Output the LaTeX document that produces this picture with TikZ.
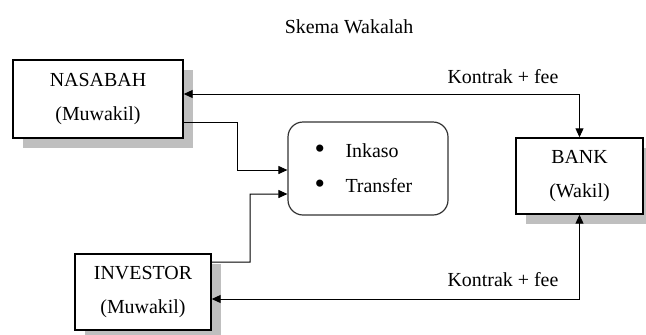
\documentclass[tikz,border=0pt]{standalone}
\usepackage{fontspec}
\setmainfont{Liberation Serif}
\usetikzlibrary{arrows.meta,shadows}
\newcommand{\bigdot}{\makebox[31bp][l]{\raisebox{-1.5bp}{\fontsize{30}{30}\selectfont\textbullet}}}
\begin{document}
\begin{tikzpicture}[x=1bp,y=-1bp,
  every node/.style={font=\fontsize{20}{34}\selectfont},
  party/.style={draw=black, line width=1.4bp, fill=white, inner sep=0pt, align=center,
    drop shadow={shadow xshift=10bp, shadow yshift=-10bp, fill=black!25, opacity=1}},
  conn/.style={line width=1bp, draw=black},
  tip/.style={-{Triangle[length=9bp,width=8bp]}},
  tips/.style={{Triangle[length=9bp,width=8bp]}-{Triangle[length=9bp,width=8bp]}},
  plain/.style={inner sep=0pt}]
\useasboundingbox (0,0) rectangle (646,334);

\node[plain] (title) at (349,27) {Skema Wakalah};

\node[party, minimum width=170bp, minimum height=78bp] (nasabah) at (98,99) {NASABAH\\(Muwakil)};
\node[party, minimum width=136bp, minimum height=76bp] (investor) at (143,292) {INVESTOR\\(Muwakil)};
\node[party, minimum width=127bp, minimum height=76bp] (bank) at (579.5,176) {BANK\\(Wakil)};

\node[draw=black!80, line width=1.2bp, rounded corners=15bp, minimum width=160bp, minimum height=93bp,
  inner xsep=26.5bp, inner ysep=0pt, text width=107bp, align=left,
  font=\fontsize{20}{35}\selectfont] (box) at (368,168.5)
  {\bigdot Inkaso\\\bigdot Transfer};

\draw[conn, tips] ([yshift=5bp]nasabah.east) -| (bank.north);
\draw[conn, tips] ([yshift=-7bp]investor.east) -| (bank.south);
\draw[conn, tip] ([yshift=-23bp]nasabah.east) -| (237,170) -- ([yshift=-1.5bp]box.west);
\draw[conn, tip] ([yshift=30bp]investor.east) -| (250,194) -- ([yshift=-25.5bp]box.west);

\node[plain] (k1) at (503,77) {Kontrak + fee};
\node[plain] (k2) at (503,280) {Kontrak + fee};
\end{tikzpicture}
\end{document}
